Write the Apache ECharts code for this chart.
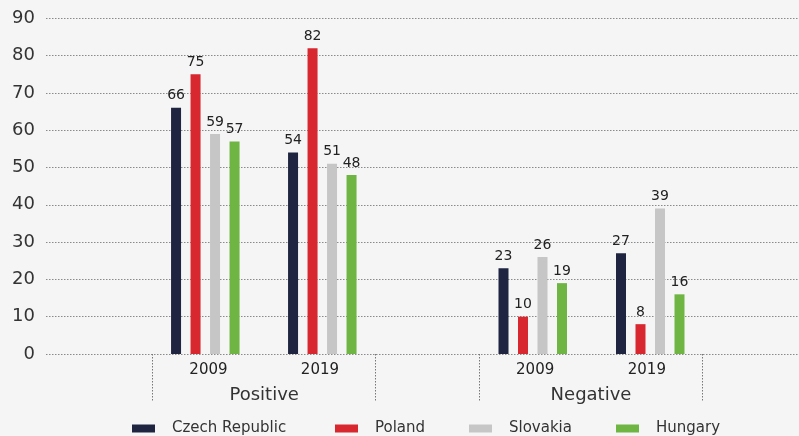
<!DOCTYPE html>
<html>
<head>
<meta charset="utf-8">
<script src="https://cdn.jsdelivr.net/npm/echarts@6/dist/echarts.min.js"></script>
<style>
html,body{margin:0;padding:0;background:#f5f5f5;}
#c{width:799px;height:436px;}
</style>
</head>
<body>
<div id="c"></div>
<script>
// ---- data ----
const groups = ['Positive', 'Negative'];
const years = ['2009', '2019'];
const countries = ['Czech Republic', 'Poland', 'Slovakia', 'Hungary'];
// order: [group][year]
const czech    = [[66, 54], [23, 27]];
const poland   = [[75, 82], [10, 8]];
const slovakia = [[59, 51], [26, 39]];
const hungary  = [[57, 48], [19, 16]];
const yTicks = [0, 10, 20, 30, 40, 50, 60, 70, 80, 90];

const values = [czech, poland, slovakia, hungary];
const colors = ['#1f2440', '#d9272f', '#c6c6c6', '#6fb543'];
const FONT = 'DejaVu Sans';

const TOP = 18.3, BOTTOM = 82;
// grids: 0 main (y axis + gridlines), 1/2 bar grids, 3/4 label grids
const grids = [
  {left: 46, right: 0, top: TOP, bottom: BOTTOM},
  {left: 146.8, width: 234, top: TOP, bottom: BOTTOM},
  {left: 474, width: 235, top: TOP, bottom: BOTTOM},
  {left: 152.7, width: 223, top: TOP, bottom: BOTTOM},
  {left: 479.3, width: 223.4, top: TOP, bottom: BOTTOM}
];

const yAxes = grids.map((g, i) => ({
  type: 'value', gridIndex: i, min: yTicks[0], max: yTicks[yTicks.length - 1], interval: 10,
  show: i === 0,
  axisLine: {show: false}, axisTick: {show: false},
  axisLabel: {show: i === 0, color: '#333', fontFamily: FONT, fontSize: 18, margin: 11},
  splitLine: {show: i === 0, lineStyle: {color: '#8a8a8a', type: [1.5, 1.5], width: 1}}
}));

const xAxes = [
  {type: 'category', gridIndex: 0, data: [''], show: false},
  {type: 'category', gridIndex: 1, data: years, show: false},
  {type: 'category', gridIndex: 2, data: years, show: false},
  // year labels
  {type: 'category', gridIndex: 3, data: years, position: 'bottom',
   axisLine: {show: false}, axisTick: {show: false},
   axisLabel: {color: '#222', fontFamily: FONT, fontSize: 15, margin: 9}},
  {type: 'category', gridIndex: 4, data: years, position: 'bottom',
   axisLine: {show: false}, axisTick: {show: false},
   axisLabel: {color: '#222', fontFamily: FONT, fontSize: 15, margin: 9}},
  // group labels
  {type: 'category', gridIndex: 3, data: [groups[0]], position: 'bottom',
   axisLine: {show: false},
   axisTick: {show: true, length: 48, lineStyle: {color: '#777', type: [1.5, 1.5]}},
   axisLabel: {color: '#333', fontFamily: FONT, fontSize: 18, margin: 32}},
  {type: 'category', gridIndex: 4, data: [groups[1]], position: 'bottom',
   axisLine: {show: false},
   axisTick: {show: true, length: 48, lineStyle: {color: '#777', type: [1.5, 1.5]}},
   axisLabel: {color: '#333', fontFamily: FONT, fontSize: 18, margin: 32}}
];

const series = [];
countries.forEach((name, ci) => {
  groups.forEach((g, gi) => {
    series.push({
      name: name, type: 'bar',
      xAxisIndex: 1 + gi, yAxisIndex: 1 + gi,
      data: values[ci][gi],
      barWidth: 10, barGap: '95%',
      itemStyle: {color: colors[ci]},
      label: {show: true, position: 'top', distance: 5, color: '#222', fontFamily: FONT, fontSize: 14}
    });
  });
});

const legendLefts = [132, 335, 469, 616];
const legends = countries.map((name, i) => ({
  data: [name], left: legendLefts[i], top: 421, padding: 0,
  icon: 'rect', itemWidth: 23, itemHeight: 8,
  textStyle: {color: '#333', fontFamily: FONT, fontSize: 15, padding: [0, 0, 0, 12]}
}));

const chart = echarts.init(document.getElementById('c'), null, {renderer: 'canvas'});
chart.setOption({
  backgroundColor: '#f5f5f5',
  animation: false,
  grid: grids,
  xAxis: xAxes,
  yAxis: yAxes,
  legend: legends,
  series: series
});
</script>
</body>
</html>
